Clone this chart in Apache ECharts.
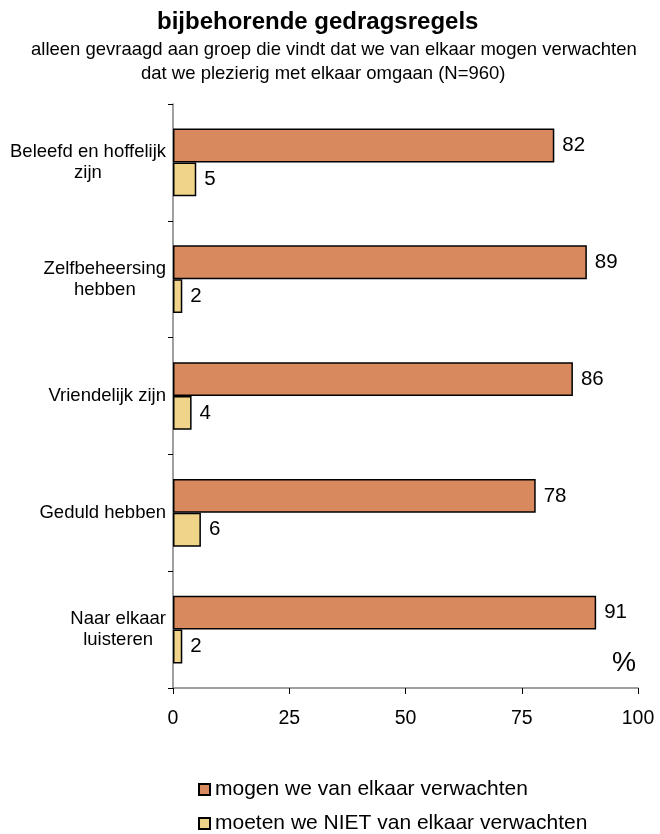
<!DOCTYPE html>
<html>
<head>
<meta charset="utf-8">
<script src="https://cdn.jsdelivr.net/npm/echarts@6/dist/echarts.min.js"></script>
<style>
  html, body { margin: 0; padding: 0; background: #fff; }
  #chart { width: 660px; height: 834px; }
</style>
</head>
<body>
<div id="chart"></div>
<script>
// categories, top to bottom
const categories = [
  'Beleefd en hoffelijk\nzijn',
  'Zelfbeheersing\nhebben',
  'Vriendelijk zijn',
  'Geduld hebben',
  'Naar elkaar\nluisteren'
]
const seriesNames = ['mogen we van elkaar verwachten', 'moeten we NIET van elkaar verwachten']
const mogenValues = [82, 89, 86, 78, 91]
const nietValues = [5, 2, 4, 6, 2]
const xTicks = [0, 25, 50, 75, 100]

const chart = echarts.init(document.getElementById('chart'))
const font = 'Liberation Sans, Arial, sans-serif'

const option = {
  animation: false,
  backgroundColor: '#fff',
  textStyle: { fontFamily: font, color: '#000' },
  title: [
    {
      text: 'bijbehorende gedragsregels',
      left: 157,
      top: 10,
      padding: 0,
      textStyle: { fontFamily: font, fontSize: 24, fontWeight: 'bold', color: '#000' }
    },
    {
      text: 'alleen gevraagd aan groep die vindt dat we van elkaar mogen verwachten',
      left: 31,
      top: 40,
      padding: 0,
      textStyle: { fontFamily: font, fontSize: 18.5, fontWeight: 'normal', color: '#000' }
    },
    {
      text: 'dat we plezierig met elkaar omgaan (N=960)',
      left: 141,
      top: 64,
      padding: 0,
      textStyle: { fontFamily: font, fontSize: 18.5, fontWeight: 'normal', color: '#000' }
    }
  ],
  grid: { left: 173, right: 22, top: 104, bottom: 146 },
  legend: {
    orient: 'vertical',
    left: 198,
    top: 779,
    padding: 0,
    icon: 'rect',
    itemWidth: 11,
    itemHeight: 11,
    itemGap: 13,
    textStyle: { fontFamily: font, fontSize: 21, color: '#000' },
    data: seriesNames
  },
  xAxis: {
    type: 'value',
    min: xTicks[0],
    max: xTicks[xTicks.length - 1],
    interval: 25,
    splitLine: { show: false },
    axisLine: { show: true, lineStyle: { color: '#808080', width: 1.5 } },
    axisTick: { show: true, length: 6, lineStyle: { color: '#000' } },
    axisLabel: { fontFamily: font, fontSize: 19.5, color: '#000', margin: 21 }
  },
  yAxis: {
    type: 'category',
    inverse: true,
    data: categories,
    axisLine: { show: true, lineStyle: { color: '#808080', width: 1.5 } },
    axisTick: { show: true, length: 5, lineStyle: { color: '#000' } },
    axisLabel: {
      margin: 7,
      formatter: (v) => v.split('\n').map(s => '{c|' + s + '}').join('\n'),
      rich: {
        c: { align: 'center', fontFamily: font, fontSize: 18.5, lineHeight: 21, color: '#000' }
      }
    }
  },
  series: [
    {
      name: seriesNames[0],
      type: 'bar',
      data: mogenValues,
      barGap: '0%',
      barCategoryGap: '42%',
      itemStyle: { color: '#D88A5E', borderColor: '#000', borderWidth: 1.5 },
      label: { show: true, position: 'right', distance: 8, fontFamily: font, fontSize: 20.5, color: '#000' }
    },
    {
      name: seriesNames[1],
      type: 'bar',
      data: nietValues,
      barGap: '0%',
      barCategoryGap: '42%',
      itemStyle: { color: '#F0D48A', borderColor: '#000', borderWidth: 1.5 },
      label: { show: true, position: 'right', distance: 8, fontFamily: font, fontSize: 20.5, color: '#000' }
    }
  ],
  graphic: [
    {
      type: 'text',
      left: 612,
      top: 650,
      style: { text: '%', fontFamily: font, fontSize: 27, fill: '#000' }
    }
  ]
}

chart.setOption(option)
</script>
</body>
</html>
